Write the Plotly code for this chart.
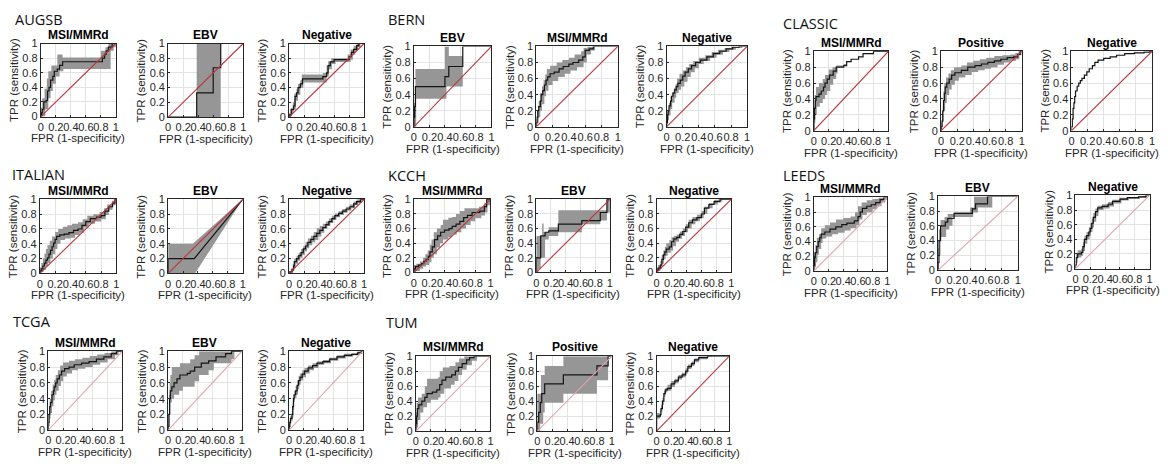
import plotly.graph_objects as go

# ---------------- DATA (ROC curves: (FPR, TPR) step points; bands: upper / lower CI) -------------
groups = ["AUGSB", "BERN", "CLASSIC", "ITALIAN", "KCCH", "LEEDS", "TCGA", "TUM"]
group_panels = [
    ["MSI/MMRd", "EBV", "Negative"],
    ["EBV", "MSI/MMRd", "Negative"],
    ["MSI/MMRd", "Positive", "Negative"],
    ["MSI/MMRd", "EBV", "Negative"],
    ["MSI/MMRd", "EBV", "Negative"],
    ["MSI/MMRd", "EBV", "Negative"],
    ["MSI/MMRd", "EBV", "Negative"],
    ["MSI/MMRd", "Positive", "Negative"],
]
x_ticks = [0, 0.2, 0.4, 0.6, 0.8, 1]
x_tick_labels = ["0", "0.2", "0.4", "0.6", "0.8", "1"]

augsb_msi_curve = [(0,0),(0.01,0.05),(0.02,0.1),(0.04,0.2),(0.07,0.22),(0.09,0.35),(0.11,0.4),(0.13,0.5),(0.16,0.55),(0.18,0.62),(0.22,0.65),(0.25,0.7),(0.29,0.75),(0.82,0.8),(0.85,0.85),(0.87,0.9),(0.9,0.95),(0.95,1),(1,1)]
augsb_msi_upper = [(0,0),(0,0.12),(0.02,0.25),(0.05,0.38),(0.08,0.52),(0.1,0.62),(0.14,0.7),(0.22,0.85),(0.29,0.81),(0.8,0.9),(0.86,0.95),(0.9,1),(1,1)]
augsb_msi_lower = [(0,0),(0.06,0.1),(0.1,0.25),(0.13,0.35),(0.16,0.45),(0.2,0.55),(0.25,0.62),(0.3,0.65),(0.93,0.9),(0.97,0.95),(1,1)]

augsb_ebv_curve = [(0,0),(0.38,0.33),(0.6,0.67),(0.7,1),(1,1)]
augsb_ebv_upper = [(0,0),(0.38,1),(1,1)]
augsb_ebv_lower = [(0,0),(0.7,1),(1,1)]

augsb_neg_curve = [(0,0),(0.01,0.03),(0.03,0.1),(0.06,0.15),(0.08,0.28),(0.1,0.33),(0.12,0.4),(0.15,0.45),(0.18,0.52),(0.45,0.55),(0.5,0.6),(0.52,0.7),(0.55,0.75),(0.6,0.78),(0.8,0.82),(0.83,0.88),(0.86,0.92),(0.9,0.97),(0.93,1),(1,1)]
augsb_neg_upper = [(0,0),(0,0.05),(0.02,0.12),(0.05,0.2),(0.07,0.32),(0.1,0.38),(0.12,0.45),(0.15,0.5),(0.17,0.58),(0.45,0.6),(0.5,0.7),(0.52,0.76),(0.56,0.8),(0.78,0.85),(0.82,0.92),(0.86,0.97),(0.9,1),(1,1)]
augsb_neg_lower = [(0,0),(0.03,0.05),(0.06,0.1),(0.09,0.22),(0.12,0.3),(0.15,0.4),(0.19,0.47),(0.5,0.55),(0.53,0.65),(0.57,0.72),(0.62,0.75),(0.82,0.78),(0.85,0.85),(0.88,0.9),(0.92,0.95),(0.95,1),(1,1)]

bern_ebv_curve = [(0,0),(0,0.12),(0.01,0.25),(0.02,0.5),(0.4,0.625),(0.45,0.75),(0.63,1),(1,1)]
bern_ebv_upper = [(0,0),(0,0.3),(0.02,0.72),(0.4,1),(0.45,0.88),(0.63,1),(1,1)]
bern_ebv_lower = [(0,0),(0.03,0.35),(0.42,0.5),(0.63,1),(1,1)]

bern_msi_curve = [(0,0),(0,0.05),(0.01,0.12),(0.02,0.2),(0.03,0.25),(0.05,0.32),(0.06,0.4),(0.08,0.45),(0.1,0.52),(0.12,0.58),(0.14,0.62),(0.17,0.66),(0.22,0.68),(0.28,0.72),(0.33,0.75),(0.4,0.78),(0.45,0.8),(0.52,0.83),(0.57,0.87),(0.6,0.95),(0.65,0.97),(0.7,1),(1,1)]
bern_msi_upper = [(0,0),(0,0.1),(0.01,0.2),(0.03,0.32),(0.05,0.42),(0.07,0.5),(0.09,0.58),(0.11,0.65),(0.13,0.72),(0.17,0.76),(0.25,0.8),(0.32,0.83),(0.4,0.86),(0.47,0.9),(0.55,0.94),(0.58,0.98),(0.63,1),(1,1)]
bern_msi_lower = [(0,0),(0.01,0.05),(0.03,0.12),(0.05,0.2),(0.07,0.28),(0.1,0.38),(0.12,0.45),(0.15,0.52),(0.2,0.57),(0.27,0.62),(0.35,0.66),(0.42,0.7),(0.5,0.74),(0.58,0.8),(0.62,0.9),(0.67,0.95),(0.72,1),(1,1)]

bern_neg_curve = [(0,0),(0,0.05),(0.01,0.15),(0.02,0.2),(0.03,0.26),(0.05,0.32),(0.06,0.38),(0.08,0.42),(0.1,0.46),(0.12,0.5),(0.14,0.54),(0.17,0.58),(0.2,0.63),(0.23,0.68),(0.27,0.72),(0.31,0.76),(0.36,0.8),(0.42,0.83),(0.5,0.87),(0.58,0.91),(0.66,0.94),(0.74,0.97),(0.82,0.99),(0.9,1),(1,1)]
bern_neg_upper = [(0,0),(0,0.1),(0.01,0.2),(0.03,0.3),(0.05,0.37),(0.07,0.43),(0.09,0.48),(0.11,0.53),(0.13,0.6),(0.16,0.66),(0.2,0.7),(0.24,0.74),(0.28,0.78),(0.33,0.82),(0.4,0.86),(0.48,0.89),(0.56,0.93),(0.64,0.96),(0.72,0.98),(0.8,1),(1,1)]
bern_neg_lower = [(0,0),(0.01,0.08),(0.03,0.14),(0.05,0.22),(0.07,0.3),(0.1,0.36),(0.12,0.42),(0.15,0.46),(0.18,0.5),(0.22,0.56),(0.26,0.62),(0.3,0.68),(0.35,0.73),(0.4,0.78),(0.46,0.82),(0.54,0.86),(0.62,0.9),(0.7,0.93),(0.78,0.96),(0.86,0.98),(0.94,1),(1,1)]

classic_msi_curve = [(0,0),(0,0.15),(0.01,0.28),(0.02,0.38),(0.03,0.43),(0.07,0.46),(0.1,0.5),(0.13,0.55),(0.15,0.6),(0.18,0.65),(0.21,0.7),(0.26,0.75),(0.3,0.8),(0.4,0.82),(0.44,0.87),(0.5,0.9),(0.6,0.93),(0.66,0.97),(0.8,1),(1,1)]
classic_msi_upper = [(0,0),(0,0.3),(0.01,0.45),(0.03,0.55),(0.07,0.6),(0.12,0.65),(0.15,0.7),(0.2,0.77),(0.25,0.8),(0.3,0.82),(0.4,0.84),(0.44,0.87),(0.5,0.9),(0.6,0.93),(0.66,0.97),(0.8,1),(1,1)]
classic_msi_lower = [(0,0),(0.01,0.1),(0.02,0.2),(0.04,0.3),(0.08,0.35),(0.12,0.4),(0.15,0.45),(0.18,0.5),(0.22,0.58),(0.26,0.65),(0.3,0.72),(0.32,0.8),(0.4,0.82),(0.44,0.87),(0.5,0.9),(0.6,0.93),(0.66,0.97),(0.8,1),(1,1)]

classic_pos_curve = [(0,0),(0,0.05),(0.01,0.12),(0.02,0.25),(0.03,0.38),(0.04,0.47),(0.05,0.55),(0.07,0.6),(0.1,0.65),(0.13,0.7),(0.17,0.73),(0.25,0.76),(0.33,0.8),(0.42,0.82),(0.5,0.84),(0.58,0.86),(0.66,0.88),(0.74,0.9),(0.82,0.92),(0.9,0.93),(0.95,0.96),(0.98,1),(1,1)]
classic_pos_upper = [(0,0),(0,0.1),(0.01,0.2),(0.02,0.38),(0.03,0.5),(0.04,0.6),(0.06,0.67),(0.09,0.72),(0.12,0.76),(0.16,0.8),(0.25,0.82),(0.32,0.86),(0.4,0.88),(0.48,0.9),(0.56,0.92),(0.66,0.94),(0.76,0.95),(0.86,0.96),(0.92,0.98),(0.96,1),(1,1)]
classic_pos_lower = [(0,0),(0.01,0.05),(0.02,0.12),(0.03,0.25),(0.05,0.35),(0.07,0.45),(0.1,0.52),(0.13,0.58),(0.17,0.63),(0.22,0.67),(0.3,0.7),(0.38,0.74),(0.46,0.76),(0.54,0.78),(0.62,0.8),(0.7,0.83),(0.78,0.86),(0.86,0.88),(0.93,0.9),(0.97,0.95),(1,1)]

classic_neg_curve = [(0,0),(0,0.05),(0.01,0.15),(0.02,0.28),(0.03,0.35),(0.04,0.43),(0.05,0.5),(0.07,0.56),(0.09,0.6),(0.11,0.63),(0.13,0.66),(0.16,0.7),(0.19,0.74),(0.22,0.78),(0.26,0.82),(0.29,0.86),(0.33,0.89),(0.4,0.91),(0.48,0.93),(0.56,0.95),(0.66,0.97),(0.78,0.98),(0.9,0.99),(0.97,1),(1,1)]
classic_neg_upper = []
classic_neg_lower = []

italian_msi_curve = [(0,0),(0,0.03),(0.02,0.06),(0.04,0.1),(0.06,0.14),(0.08,0.18),(0.1,0.21),(0.12,0.26),(0.14,0.31),(0.16,0.36),(0.18,0.41),(0.2,0.46),(0.22,0.5),(0.26,0.52),(0.32,0.53),(0.38,0.55),(0.44,0.58),(0.5,0.6),(0.55,0.65),(0.6,0.7),(0.66,0.74),(0.74,0.76),(0.8,0.78),(0.85,0.84),(0.9,0.9),(0.95,0.95),(0.98,1),(1,1)]
italian_msi_upper = [(0,0),(0,0.08),(0.02,0.14),(0.04,0.2),(0.06,0.27),(0.08,0.33),(0.1,0.38),(0.13,0.44),(0.16,0.5),(0.2,0.56),(0.24,0.6),(0.3,0.63),(0.36,0.65),(0.42,0.67),(0.5,0.69),(0.56,0.73),(0.62,0.78),(0.7,0.8),(0.78,0.83),(0.84,0.88),(0.88,0.93),(0.94,0.98),(0.97,1),(1,1)]
italian_msi_lower = [(0,0),(0.02,0.02),(0.05,0.05),(0.08,0.1),(0.11,0.14),(0.14,0.2),(0.17,0.26),(0.2,0.33),(0.23,0.4),(0.27,0.45),(0.33,0.47),(0.4,0.48),(0.46,0.52),(0.52,0.55),(0.58,0.62),(0.64,0.67),(0.72,0.7),(0.8,0.73),(0.86,0.79),(0.9,0.86),(0.95,0.92),(0.99,0.97),(1,1)]

italian_ebv_curve = [(0,0),(0,0.2),(0.35,0.2),(1,1)]
italian_ebv_upper = [(0,0),(0,0.4),(0.33,0.4),(1,1)]
italian_ebv_lower = [(0,0),(0.36,0),(1,1)]

italian_neg_curve = [(0,0),(0.01,0.02),(0.04,0.05),(0.06,0.1),(0.07,0.16),(0.1,0.2),(0.13,0.24),(0.16,0.28),(0.19,0.33),(0.22,0.37),(0.25,0.42),(0.29,0.46),(0.33,0.5),(0.37,0.54),(0.41,0.58),(0.45,0.62),(0.49,0.66),(0.53,0.7),(0.57,0.74),(0.61,0.78),(0.66,0.81),(0.71,0.84),(0.76,0.87),(0.81,0.9),(0.86,0.94),(0.9,0.97),(0.95,1),(1,1)]
italian_neg_upper = [(0,0),(0,0.03),(0.03,0.07),(0.05,0.13),(0.07,0.2),(0.1,0.24),(0.13,0.28),(0.16,0.33),(0.19,0.37),(0.22,0.42),(0.25,0.47),(0.29,0.51),(0.33,0.56),(0.37,0.61),(0.41,0.64),(0.45,0.67),(0.49,0.7),(0.53,0.74),(0.57,0.78),(0.61,0.81),(0.66,0.84),(0.71,0.87),(0.76,0.9),(0.81,0.93),(0.86,0.97),(0.9,1),(1,1)]
italian_neg_lower = [(0,0),(0.02,0.01),(0.05,0.03),(0.07,0.07),(0.09,0.13),(0.12,0.17),(0.15,0.21),(0.18,0.25),(0.21,0.3),(0.24,0.34),(0.27,0.38),(0.31,0.42),(0.35,0.45),(0.39,0.5),(0.43,0.55),(0.47,0.6),(0.51,0.64),(0.55,0.68),(0.59,0.72),(0.63,0.76),(0.68,0.79),(0.73,0.82),(0.78,0.85),(0.83,0.88),(0.88,0.92),(0.92,0.95),(0.97,0.99),(1,1)]

kcch_msi_curve = [(0,0),(0,0.05),(0.02,0.08),(0.06,0.1),(0.1,0.12),(0.13,0.15),(0.16,0.18),(0.19,0.22),(0.21,0.28),(0.24,0.35),(0.27,0.45),(0.31,0.5),(0.35,0.55),(0.4,0.58),(0.46,0.6),(0.5,0.63),(0.55,0.66),(0.6,0.7),(0.65,0.75),(0.7,0.78),(0.76,0.82),(0.86,0.84),(0.92,0.9),(0.95,1),(1,1)]
kcch_msi_upper = [(0,0),(0,0.1),(0.03,0.12),(0.08,0.15),(0.12,0.2),(0.15,0.25),(0.18,0.3),(0.21,0.38),(0.23,0.45),(0.26,0.55),(0.3,0.6),(0.35,0.65),(0.38,0.72),(0.45,0.75),(0.5,0.76),(0.55,0.8),(0.6,0.84),(0.66,0.88),(0.85,0.9),(0.92,0.95),(0.95,1),(1,1)]
kcch_msi_lower = [(0,0),(0.03,0.02),(0.08,0.05),(0.12,0.08),(0.16,0.1),(0.2,0.14),(0.23,0.2),(0.26,0.25),(0.3,0.34),(0.34,0.4),(0.38,0.45),(0.45,0.48),(0.5,0.52),(0.56,0.55),(0.62,0.6),(0.68,0.65),(0.74,0.7),(0.8,0.74),(0.88,0.78),(0.93,0.82),(0.96,0.92),(1,1)]

kcch_ebv_curve = [(0,0),(0,0.2),(0.06,0.5),(0.12,0.55),(0.17,0.57),(0.3,0.66),(0.62,0.71),(0.87,0.82),(0.96,1),(1,1)]
kcch_ebv_upper = [(0,0),(0,0.5),(0.08,0.67),(0.1,0.55),(0.17,0.62),(0.3,0.85),(0.96,1),(1,1)]
kcch_ebv_lower = [(0,0),(0.03,0.05),(0.06,0.2),(0.12,0.45),(0.17,0.5),(0.3,0.55),(0.62,0.66),(0.87,0.71),(0.96,0.82),(1,1)]

kcch_neg_curve = [(0,0),(0,0.03),(0.02,0.06),(0.05,0.1),(0.07,0.18),(0.09,0.24),(0.11,0.28),(0.13,0.32),(0.17,0.35),(0.2,0.42),(0.23,0.46),(0.27,0.48),(0.31,0.52),(0.35,0.56),(0.39,0.62),(0.43,0.68),(0.48,0.72),(0.54,0.75),(0.6,0.8),(0.64,0.88),(0.7,0.93),(0.77,0.97),(0.85,1),(1,1)]
kcch_neg_upper = [(0,0),(0,0.06),(0.02,0.1),(0.05,0.16),(0.07,0.24),(0.09,0.3),(0.11,0.35),(0.13,0.4),(0.17,0.44),(0.2,0.48),(0.23,0.5),(0.27,0.52),(0.31,0.56),(0.35,0.6),(0.39,0.66),(0.43,0.72),(0.48,0.76),(0.54,0.79),(0.6,0.84),(0.64,0.9),(0.7,0.95),(0.77,0.99),(0.82,1),(1,1)]
kcch_neg_lower = [(0,0),(0.02,0.02),(0.05,0.05),(0.07,0.12),(0.1,0.18),(0.12,0.23),(0.15,0.27),(0.19,0.3),(0.22,0.36),(0.26,0.42),(0.3,0.46),(0.34,0.5),(0.38,0.55),(0.42,0.6),(0.47,0.66),(0.52,0.7),(0.58,0.74),(0.63,0.8),(0.68,0.88),(0.75,0.93),(0.82,0.97),(0.88,1),(1,1)]

leeds_msi_curve = [(0,0),(0,0.08),(0.01,0.18),(0.02,0.25),(0.04,0.33),(0.06,0.4),(0.08,0.45),(0.1,0.5),(0.15,0.53),(0.22,0.57),(0.3,0.6),(0.38,0.63),(0.45,0.65),(0.55,0.68),(0.6,0.74),(0.63,0.8),(0.66,0.85),(0.72,0.88),(0.78,0.9),(0.84,0.93),(0.9,0.97),(0.95,1),(1,1)]
leeds_msi_upper = [(0,0),(0,0.25),(0.02,0.35),(0.04,0.45),(0.07,0.5),(0.1,0.58),(0.15,0.62),(0.22,0.66),(0.3,0.7),(0.4,0.72),(0.5,0.74),(0.56,0.8),(0.6,0.88),(0.65,0.93),(0.72,0.96),(0.8,0.98),(0.88,1),(1,1)]
leeds_msi_lower = [(0,0),(0.01,0.05),(0.03,0.12),(0.05,0.22),(0.07,0.3),(0.1,0.38),(0.12,0.44),(0.17,0.47),(0.25,0.5),(0.33,0.52),(0.42,0.55),(0.5,0.58),(0.58,0.62),(0.62,0.7),(0.66,0.76),(0.72,0.8),(0.8,0.84),(0.86,0.88),(0.92,0.93),(0.97,0.97),(1,1)]

leeds_ebv_curve = [(0,0),(0,0.1),(0.01,0.4),(0.03,0.6),(0.09,0.65),(0.12,0.7),(0.2,0.77),(0.43,0.83),(0.47,0.9),(0.62,1),(1,1)]
leeds_ebv_upper = [(0,0),(0,0.3),(0.01,0.55),(0.03,0.68),(0.08,0.72),(0.12,0.76),(0.2,0.78),(0.4,0.85),(0.45,1),(1,1)]
leeds_ebv_lower = [(0,0),(0.01,0.2),(0.03,0.45),(0.1,0.55),(0.14,0.6),(0.18,0.72),(0.44,0.78),(0.5,0.85),(0.68,1),(1,1)]

leeds_neg_curve = [(0,0),(0,0.05),(0.01,0.15),(0.03,0.2),(0.08,0.22),(0.1,0.3),(0.12,0.4),(0.15,0.45),(0.18,0.5),(0.2,0.55),(0.22,0.62),(0.24,0.7),(0.27,0.78),(0.3,0.83),(0.36,0.85),(0.44,0.88),(0.5,0.92),(0.6,0.95),(0.7,0.97),(0.85,0.98),(0.95,1),(1,1)]
leeds_neg_upper = [(0,0),(0,0.1),(0.01,0.2),(0.03,0.25),(0.08,0.27),(0.1,0.36),(0.12,0.45),(0.15,0.5),(0.18,0.56),(0.2,0.62),(0.22,0.68),(0.24,0.76),(0.27,0.82),(0.3,0.86),(0.36,0.88),(0.44,0.91),(0.5,0.94),(0.6,0.97),(0.7,0.98),(0.85,0.99),(0.92,1),(1,1)]
leeds_neg_lower = [(0,0),(0.01,0.08),(0.03,0.15),(0.08,0.17),(0.1,0.24),(0.13,0.34),(0.16,0.4),(0.19,0.45),(0.21,0.5),(0.23,0.56),(0.25,0.64),(0.28,0.72),(0.31,0.8),(0.38,0.82),(0.46,0.85),(0.52,0.89),(0.62,0.93),(0.72,0.95),(0.87,0.97),(0.97,1),(1,1)]

tcga_msi_curve = [(0,0),(0,0.1),(0.01,0.2),(0.02,0.3),(0.03,0.35),(0.05,0.45),(0.07,0.5),(0.08,0.55),(0.1,0.6),(0.12,0.65),(0.15,0.7),(0.18,0.75),(0.22,0.78),(0.28,0.8),(0.35,0.83),(0.45,0.85),(0.55,0.87),(0.65,0.9),(0.75,0.93),(0.85,0.97),(0.92,1),(1,1)]
tcga_msi_upper = [(0,0),(0,0.2),(0.01,0.3),(0.02,0.4),(0.04,0.5),(0.06,0.58),(0.08,0.64),(0.1,0.7),(0.13,0.76),(0.16,0.82),(0.2,0.86),(0.28,0.88),(0.36,0.9),(0.46,0.92),(0.56,0.94),(0.66,0.96),(0.76,0.98),(0.85,1),(1,1)]
tcga_msi_lower = [(0,0),(0.01,0.05),(0.02,0.15),(0.03,0.22),(0.05,0.3),(0.07,0.38),(0.09,0.45),(0.11,0.5),(0.14,0.56),(0.17,0.62),(0.2,0.68),(0.25,0.72),(0.32,0.76),(0.4,0.78),(0.5,0.8),(0.6,0.83),(0.7,0.86),(0.8,0.9),(0.9,0.95),(0.95,1),(1,1)]

tcga_ebv_curve = [(0,0),(0,0.05),(0.01,0.2),(0.02,0.4),(0.03,0.5),(0.05,0.55),(0.08,0.6),(0.12,0.65),(0.16,0.7),(0.26,0.72),(0.3,0.75),(0.36,0.8),(0.45,0.85),(0.55,0.88),(0.65,0.93),(0.78,0.97),(0.86,1),(1,1)]
tcga_ebv_upper = [(0,0),(0,0.2),(0.01,0.45),(0.02,0.6),(0.03,0.7),(0.05,0.8),(0.16,0.85),(0.3,0.9),(0.36,0.95),(0.42,1),(1,1)]
tcga_ebv_lower = [(0,0),(0.01,0.05),(0.02,0.2),(0.03,0.35),(0.05,0.4),(0.08,0.45),(0.15,0.5),(0.2,0.55),(0.36,0.62),(0.42,0.7),(0.55,0.76),(0.62,0.85),(0.86,0.9),(0.9,1),(1,1)]

tcga_neg_curve = [(0,0),(0,0.05),(0.01,0.1),(0.02,0.15),(0.04,0.2),(0.05,0.3),(0.06,0.4),(0.07,0.45),(0.09,0.5),(0.11,0.57),(0.13,0.63),(0.15,0.67),(0.18,0.71),(0.21,0.75),(0.26,0.79),(0.32,0.82),(0.38,0.85),(0.46,0.87),(0.55,0.9),(0.65,0.93),(0.75,0.95),(0.85,0.96),(0.93,0.98),(0.98,1),(1,1)]
tcga_neg_upper = [(0,0),(0,0.08),(0.01,0.13),(0.02,0.18),(0.04,0.25),(0.05,0.35),(0.06,0.45),(0.07,0.5),(0.09,0.56),(0.11,0.63),(0.13,0.69),(0.15,0.72),(0.18,0.76),(0.21,0.79),(0.26,0.82),(0.32,0.85),(0.38,0.87),(0.46,0.89),(0.55,0.92),(0.65,0.95),(0.75,0.97),(0.85,0.98),(0.93,1),(1,1)]
tcga_neg_lower = [(0,0),(0.01,0.03),(0.02,0.08),(0.03,0.12),(0.05,0.16),(0.06,0.26),(0.07,0.36),(0.08,0.41),(0.1,0.45),(0.12,0.52),(0.14,0.58),(0.16,0.63),(0.19,0.67),(0.23,0.72),(0.28,0.76),(0.34,0.79),(0.4,0.83),(0.48,0.85),(0.57,0.88),(0.67,0.91),(0.77,0.93),(0.87,0.95),(0.95,0.97),(1,1)]

tum_msi_curve = [(0,0),(0,0.1),(0.01,0.2),(0.02,0.3),(0.04,0.35),(0.08,0.4),(0.12,0.45),(0.15,0.5),(0.22,0.52),(0.28,0.55),(0.32,0.62),(0.35,0.68),(0.4,0.72),(0.48,0.75),(0.53,0.8),(0.57,0.85),(0.62,0.9),(0.68,0.95),(0.72,0.98),(0.78,1),(1,1)]
tum_msi_upper = [(0,0),(0,0.25),(0.01,0.38),(0.03,0.45),(0.08,0.5),(0.12,0.6),(0.15,0.7),(0.3,0.72),(0.32,0.8),(0.36,0.85),(0.45,0.87),(0.53,0.92),(0.58,0.97),(0.65,1),(1,1)]
tum_msi_lower = [(0,0),(0.01,0.05),(0.03,0.15),(0.06,0.25),(0.1,0.32),(0.15,0.38),(0.2,0.42),(0.3,0.45),(0.33,0.5),(0.38,0.57),(0.47,0.62),(0.52,0.67),(0.57,0.75),(0.62,0.82),(0.68,0.88),(0.75,0.94),(0.82,1),(1,1)]

tum_pos_curve = [(0,0),(0,0.12),(0.02,0.25),(0.04,0.38),(0.06,0.5),(0.1,0.63),(0.35,0.75),(0.8,0.87),(0.95,1),(1,1)]
tum_pos_upper = [(0,0),(0,0.5),(0.05,0.75),(0.1,0.87),(0.35,1),(1,1)]
tum_pos_lower = [(0,0),(0.04,0.1),(0.08,0.25),(0.1,0.38),(0.35,0.5),(0.8,0.68),(0.95,1),(1,1)]

tum_neg_curve = [(0,0),(0,0.2),(0.05,0.22),(0.06,0.3),(0.08,0.4),(0.1,0.5),(0.12,0.55),(0.15,0.57),(0.2,0.63),(0.25,0.67),(0.3,0.72),(0.35,0.75),(0.4,0.8),(0.43,0.86),(0.48,0.9),(0.52,0.95),(0.58,0.98),(0.7,1),(1,1)]
tum_neg_upper = [(0,0),(0,0.24),(0.05,0.27),(0.06,0.35),(0.08,0.45),(0.1,0.54),(0.12,0.58),(0.15,0.62),(0.2,0.67),(0.25,0.7),(0.3,0.75),(0.35,0.78),(0.4,0.84),(0.43,0.89),(0.48,0.93),(0.52,0.97),(0.58,1),(1,1)]
tum_neg_lower = [(0,0),(0,0.17),(0.05,0.19),(0.06,0.26),(0.08,0.35),(0.1,0.46),(0.12,0.52),(0.15,0.54),(0.2,0.59),(0.25,0.64),(0.3,0.69),(0.35,0.72),(0.4,0.77),(0.43,0.83),(0.48,0.87),(0.52,0.92),(0.58,0.96),(0.7,0.99),(0.75,1),(1,1)]

panel_data = [
    (augsb_msi_curve, augsb_msi_upper, augsb_msi_lower),
    (augsb_ebv_curve, augsb_ebv_upper, augsb_ebv_lower),
    (augsb_neg_curve, augsb_neg_upper, augsb_neg_lower),
    (bern_ebv_curve, bern_ebv_upper, bern_ebv_lower),
    (bern_msi_curve, bern_msi_upper, bern_msi_lower),
    (bern_neg_curve, bern_neg_upper, bern_neg_lower),
    (classic_msi_curve, classic_msi_upper, classic_msi_lower),
    (classic_pos_curve, classic_pos_upper, classic_pos_lower),
    (classic_neg_curve, classic_neg_upper, classic_neg_lower),
    (italian_msi_curve, italian_msi_upper, italian_msi_lower),
    (italian_ebv_curve, italian_ebv_upper, italian_ebv_lower),
    (italian_neg_curve, italian_neg_upper, italian_neg_lower),
    (kcch_msi_curve, kcch_msi_upper, kcch_msi_lower),
    (kcch_ebv_curve, kcch_ebv_upper, kcch_ebv_lower),
    (kcch_neg_curve, kcch_neg_upper, kcch_neg_lower),
    (leeds_msi_curve, leeds_msi_upper, leeds_msi_lower),
    (leeds_ebv_curve, leeds_ebv_upper, leeds_ebv_lower),
    (leeds_neg_curve, leeds_neg_upper, leeds_neg_lower),
    (tcga_msi_curve, tcga_msi_upper, tcga_msi_lower),
    (tcga_ebv_curve, tcga_ebv_upper, tcga_ebv_lower),
    (tcga_neg_curve, tcga_neg_upper, tcga_neg_lower),
    (tum_msi_curve, tum_msi_upper, tum_msi_lower),
    (tum_pos_curve, tum_pos_upper, tum_pos_lower),
    (tum_neg_curve, tum_neg_upper, tum_neg_lower),
]

# ---------------- LAYOUT / STYLE -------------------------------------------------------------
W, H = 1168, 464
# plot-area boxes in pixels: (left, right, top, bottom)
boxes = [
    (38, 113.5, 38.5, 113.5), (166, 241.5, 38.5, 114), (287.5, 363, 38.5, 114),
    (413, 491, 41.5, 124), (536, 618, 41.5, 124), (667, 748, 41.5, 124),
    (815, 890, 46.5, 128), (943, 1024, 46.5, 128), (1074, 1155, 46.5, 128),
    (37, 114, 198.5, 274.5), (166, 241, 198.5, 274.5), (287.5, 363, 198.5, 274.5),
    (413, 490, 198.5, 273.5), (536, 610, 198.5, 273.5), (657, 732, 198.5, 273.5),
    (815, 889, 196.5, 272), (940, 1020, 195.5, 271), (1078, 1152.5, 194.5, 269.5),
    (45.5, 120, 354.5, 435.5), (166, 240, 354.5, 435.5), (287.5, 361.5, 354.5, 435.5),
    (415, 490, 359.5, 436.5), (537, 612, 359.5, 436.5), (657, 730, 359.5, 436.5),
]
group_title_pos = [(10, 14), (385, 14), (782, 17.5), (7, 172.5), (385, 174), (782, 173.5), (8, 324), (383, 325)]
DARK_DIAG, LIGHT_DIAG = "#b8363c", "#e0a4ab"
diag_colors = [DARK_DIAG] * 15 + [LIGHT_DIAG] * 6 + [LIGHT_DIAG, LIGHT_DIAG, DARK_DIAG]
shapes_line = ["hv"] * 24
shapes_line[10] = "linear"

BAND = "#969696"
AX = "#262626"
FONT = "Liberation Sans, Arial, sans-serif"

fig = go.Figure()
layout = dict(
    width=W, height=H, margin=dict(l=0, r=0, t=0, b=0),
    paper_bgcolor="white", plot_bgcolor="white", showlegend=False,
    font=dict(family=FONT, color=AX),
)
annotations = []


def px_x(x):
    return x / W


def px_y(y):
    return 1 - y / H


for i, (box, (curve, upper, lower)) in enumerate(zip(boxes, panel_data)):
    n = i + 1
    xa, ya = f"x{n}" if n > 1 else "x", f"y{n}" if n > 1 else "y"
    shp = shapes_line[i]
    if upper and lower:
        fig.add_trace(go.Scatter(x=[p[0] for p in lower], y=[p[1] for p in lower], mode="lines",
                                 line=dict(width=0, shape=shp), hoverinfo="skip", xaxis=xa, yaxis=ya))
        fig.add_trace(go.Scatter(x=[p[0] for p in upper], y=[p[1] for p in upper], mode="lines",
                                 line=dict(width=0, shape=shp), fill="tonexty", fillcolor=BAND,
                                 hoverinfo="skip", xaxis=xa, yaxis=ya))
    fig.add_trace(go.Scatter(x=[p[0] for p in curve], y=[p[1] for p in curve], mode="lines",
                             line=dict(color="#141414", width=1.2, shape=shp), xaxis=xa, yaxis=ya))
    fig.add_trace(go.Scatter(x=[0, 1], y=[0, 1], mode="lines",
                             line=dict(color=diag_colors[i], width=1.1), xaxis=xa, yaxis=ya))

    l, r, t, b = box
    common = dict(range=[0, 1], showline=True, mirror=True, linecolor=AX, linewidth=1,
                  ticks="inside", ticklen=2, tickcolor=AX, showgrid=True, gridcolor="#e3e3e3",
                  gridwidth=1, zeroline=False, tickvals=x_ticks, ticktext=x_tick_labels,
                  tickfont=dict(family=FONT, size=11, color=AX), fixedrange=True)
    layout["xaxis" if n == 1 else f"xaxis{n}"] = dict(common, domain=[px_x(l), px_x(r)], anchor=ya,
                                                       tickangle=0)
    layout["yaxis" if n == 1 else f"yaxis{n}"] = dict(common, domain=[px_y(b), px_y(t)], anchor=xa)

    g = i // 3
    title = group_panels[g][i % 3]
    cx = (l + r) / 2
    annotations.append(dict(text=f"<b>{title}</b>", x=px_x(cx), y=px_y(t - 9), xref="paper", yref="paper",
                            xanchor="center", yanchor="middle", showarrow=False,
                            font=dict(family=FONT, size=12, color="#000")))
    annotations.append(dict(text="FPR (1-specificity)", x=px_x(cx), y=px_y(b + 22.5), xref="paper",
                            yref="paper", xanchor="center", yanchor="middle", showarrow=False,
                            font=dict(family=FONT, size=11.5, color=AX)))
    annotations.append(dict(text="TPR (sensitivity)", x=px_x(l - 27), y=px_y((t + b) / 2), xref="paper",
                            yref="paper", xanchor="center", yanchor="middle", textangle=-90, showarrow=False,
                            font=dict(family=FONT, size=11.5, color=AX)))

for name, (gx, gy) in zip(groups, group_title_pos):
    annotations.append(dict(text=name, x=px_x(gx), y=px_y(gy), xref="paper", yref="paper",
                            xanchor="left", yanchor="middle", showarrow=False,
                            font=dict(family="Open Sans, Noto Sans, sans-serif", size=14.5, color="#111")))

layout["annotations"] = annotations
fig.update_layout(**layout)
fig.write_html("out.html", config={"displayModeBar": False},
               post_script="document.body.style.margin='0px';document.body.style.overflow='hidden';")
